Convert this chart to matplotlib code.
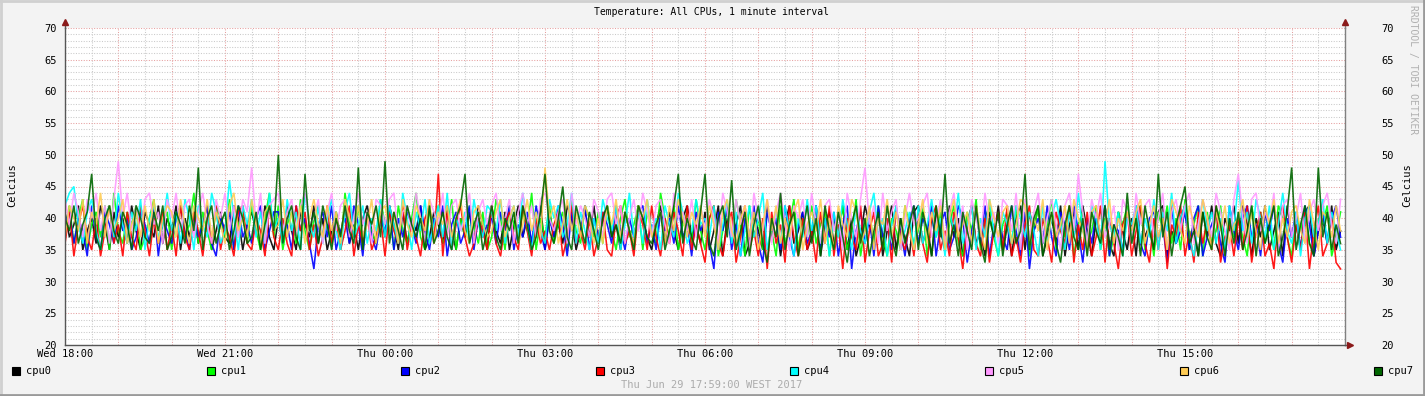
import numpy as np
import matplotlib
matplotlib.use("Agg")
import matplotlib.pyplot as plt
from matplotlib.lines import Line2D
from matplotlib.patches import Rectangle

plt.rcParams['font.family'] = ['DejaVu Sans Mono']

# temperatures, one value every 5 minutes (24 per 2 hours)
cpu0 = ("41 37 39 42 35 38 40 36 42 39 35 41 37 40 36 42 38 35 41 39 37 42 36 40 "
        "38 42 35 40 37 41 36 39 42 35 38 41 37 36 42 40 35 39 41 38 36 42 37 35 "
        "40 36 42 38 35 41 39 37 42 36 40 35 38 41 37 42 36 39 35 40 42 38 36 41 "
        "37 42 39 35 41 36 40 38 42 35 37 41 39 36 42 38 35 40 37 41 36 42 39 35 "
        "42 38 36 41 35 39 42 37 40 36 38 42 35 41 37 39 36 42 40 35 38 41 37 42 "
        "36 40 42 37 39 35 41 38 36 42 40 37 35 39 42 36 41 38 35 40 42 37 39 36 "
        "41 35 38 42 34 40 37 39 42 34 36 41 38 35 42 37 40 34 39 42 36 38 41 35 "
        "37 42 34 39 41 36 38 42 35 40 34 37 42 39 36 41 34 38 42 35 40 37 34 41 "
        "42 36 39 34 41 38 35 42 37 40 34 39 42 36 38 34 41 37 42 35 39 34 40 42 "
        "35 41 38 42 34 37 40 36 42 34 39 41 35 42 38 34 40 37 42 36 34 41 38 35 "
        "40 34 42 37 39 35 41 42 34 38 36 40 42 35 39 34 41 37 42 36 34 40 38 42 "
        "36 42 39 34 40 37 42 35 38 41 34 42 37 39 35 41 42 34 38 40 36 42 35 38")
cpu1 = ("38 42 36 40 43 35 39 41 37 42 35 44 38 36 41 39 42 35 37 40 43 36 39 41 "
        "35 40 42 37 39 44 36 41 38 35 42 40 37 43 35 39 41 36 42 38 35 40 44 37 "
        "42 35 39 41 36 43 38 35 40 42 37 39 36 41 35 44 39 37 42 35 40 38 36 43 "
        "39 41 35 42 38 36 40 44 37 35 41 39 42 36 38 43 35 40 37 42 39 36 41 35 "
        "37 43 40 35 42 39 36 41 38 44 35 40 37 42 36 39 41 35 43 38 36 42 40 37 "
        "41 36 42 38 35 40 43 37 39 42 35 41 38 36 44 40 37 42 35 39 41 36 43 38 "
        "35 40 42 34 38 41 36 43 39 34 42 37 40 35 41 38 34 42 36 39 43 35 40 37 "
        "42 36 39 41 34 40 37 42 35 38 43 34 39 41 36 42 37 34 40 38 35 42 39 36 "
        "38 42 34 40 37 41 35 39 42 36 34 41 38 43 35 40 42 37 34 39 41 36 42 35 "
        "41 34 38 42 36 39 43 35 40 37 42 34 39 41 36 38 42 35 40 34 37 41 39 42 "
        "36 40 42 35 39 34 41 38 42 36 40 35 43 37 39 42 34 41 36 38 42 35 40 37 "
        "40 37 34 42 38 41 36 39 35 42 40 37 34 41 38 42 36 35 40 39 42 34 37 41")
cpu2 = ("39 41 36 40 38 34 42 37 35 41 39 36 42 38 40 35 37 41 39 36 42 34 40 38 "
        "36 40 42 38 35 41 37 39 42 36 34 40 38 41 35 42 37 39 36 40 42 35 38 41 "
        "41 37 39 35 42 38 40 36 32 39 41 37 42 35 38 40 36 42 39 34 41 37 35 40 "
        "38 42 35 40 37 41 39 36 42 38 35 40 37 42 34 39 41 36 38 42 35 40 37 39 "
        "40 36 41 38 42 35 39 37 41 36 42 38 35 40 37 42 39 34 41 36 38 42 35 40 "
        "37 41 39 36 42 38 35 40 37 41 42 36 39 35 41 38 40 36 42 37 39 34 41 38 "
        "40 36 32 41 38 42 35 39 34 40 37 42 36 33 41 38 40 35 42 37 34 39 41 36 "
        "38 42 35 40 37 41 34 39 42 32 38 41 36 40 34 42 37 39 35 41 38 34 40 42 "
        "36 40 38 42 34 39 41 35 37 42 40 33 38 41 36 42 34 39 40 37 35 42 38 34 "
        "41 32 38 40 36 42 37 34 41 39 35 42 38 33 40 36 41 37 42 34 39 38 35 41 "
        "38 42 36 34 40 41 37 39 33 42 36 38 41 35 40 42 34 37 39 41 36 33 42 38 "
        "35 40 42 37 39 34 41 38 42 36 33 40 37 41 35 42 39 34 38 41 36 40 42 37")
cpu3 = ("36 41 34 39 42 37 35 40 34 38 42 36 39 34 41 37 35 42 38 34 40 36 41 35 "
        "39 34 42 37 35 41 38 34 40 36 42 35 39 37 34 41 42 36 35 40 38 34 42 37 "
        "35 40 36 34 42 38 41 35 39 34 37 42 36 40 35 38 42 34 39 36 41 35 37 40 "
        "34 41 38 36 42 35 39 37 34 40 42 36 47 34 41 35 39 42 37 34 36 40 38 35 "
        "42 36 34 39 41 37 35 42 38 34 40 36 38 35 39 41 34 37 42 36 38 35 40 34 "
        "37 41 35 34 40 42 36 38 34 41 39 35 42 37 34 40 36 41 38 34 42 35 39 36 "
        "33 40 42 36 34 39 41 33 37 42 35 38 34 40 32 41 36 39 33 42 37 34 40 35 "
        "38 33 41 36 42 34 39 32 40 37 35 42 33 38 41 34 36 40 33 42 37 35 39 34 "
        "41 36 33 40 42 35 38 34 41 37 32 39 42 36 34 40 33 38 41 35 42 34 37 33 "
        "39 42 35 34 40 37 33 41 38 36 42 33 39 35 41 34 37 42 33 40 36 32 39 41 "
        "34 38 42 36 33 40 35 41 32 39 37 42 34 38 33 41 36 40 35 42 33 37 39 34 "
        "40 35 42 33 38 41 34 36 32 40 42 37 33 39 35 41 32 38 42 34 36 40 33 32")
cpu4 = ("42 44 45 39 36 41 43 38 35 40 42 37 44 39 36 41 38 43 35 40 42 37 39 44 "
        "38 41 36 43 40 35 42 39 37 44 41 36 38 46 40 35 42 39 43 37 41 36 44 38 "
        "40 36 43 38 41 35 44 39 37 42 36 40 43 38 35 41 44 37 39 42 36 40 38 43 "
        "37 42 39 36 44 40 35 41 38 43 36 39 42 37 44 35 40 38 41 36 43 39 37 42 "
        "41 38 43 36 40 42 37 44 39 35 41 38 36 43 40 42 37 39 44 36 41 38 35 40 "
        "36 43 40 38 42 35 39 44 37 41 36 43 38 40 35 42 39 37 44 41 36 38 43 39 "
        "40 37 42 35 39 43 36 41 34 38 42 37 40 44 35 39 41 36 42 38 34 40 37 43 "
        "38 42 36 40 34 41 37 43 39 35 42 38 36 41 44 37 40 34 39 42 36 38 41 35 "
        "42 36 39 43 37 40 34 41 38 44 36 39 42 35 40 37 43 38 34 41 39 36 42 40 "
        "37 41 38 34 42 36 40 43 39 35 41 37 44 38 36 42 40 35 49 39 37 41 34 40 "
        "39 42 36 40 37 43 35 41 38 44 36 40 42 37 34 39 43 38 41 36 40 35 42 38 "
        "46 38 41 36 43 40 37 42 35 39 44 38 36 41 34 40 42 37 39 43 36 41 38 35")
cpu5 = ("43 39 44 41 37 43 40 44 38 42 36 43 49 40 44 38 42 37 43 44 39 41 36 43 "
        "40 44 38 42 43 37 41 44 39 36 43 40 44 38 42 37 43 41 48 39 44 36 42 43 "
        "44 38 41 43 37 42 44 39 40 43 36 41 44 38 42 43 37 40 44 39 41 36 43 42 "
        "39 43 44 37 41 42 38 44 40 36 43 41 39 44 37 42 43 38 40 44 36 41 43 39 "
        "42 44 38 40 43 36 41 44 39 42 37 43 44 40 38 41 43 36 44 39 42 40 37 43 "
        "41 37 43 44 39 42 36 40 43 38 44 41 37 42 43 39 36 44 40 41 38 43 37 42 "
        "38 43 40 36 44 41 37 43 39 42 35 44 40 38 43 36 41 44 39 35 42 40 43 37 "
        "44 39 36 42 43 38 41 35 44 40 37 43 48 39 42 36 44 38 41 43 35 40 44 39 "
        "40 42 44 37 39 43 36 41 44 38 42 35 43 40 37 44 39 41 36 43 42 38 44 35 "
        "43 37 41 44 36 40 43 39 35 42 44 38 47 41 36 43 40 44 37 39 42 35 43 41 "
        "36 44 39 42 43 37 40 44 35 41 43 38 42 44 36 39 43 40 37 44 41 38 35 43 "
        "47 40 36 43 44 38 41 39 44 35 42 43 37 40 44 36 41 43 38 42 44 39 36 43")
cpu6 = ("37 42 40 38 43 36 41 39 44 37 42 38 40 43 36 39 41 37 42 38 43 36 40 42 "
        "41 37 43 39 36 42 40 38 43 37 41 39 36 42 44 38 40 37 43 39 36 41 42 38 "
        "39 43 37 41 38 42 36 40 43 39 37 42 38 41 36 43 40 38 42 37 39 43 36 41 "
        "42 38 41 36 43 39 37 42 40 38 43 36 41 39 42 37 40 43 38 36 41 42 39 37 "
        "38 41 43 37 40 42 36 39 43 38 41 37 48 40 42 36 39 43 38 41 37 42 40 36 "
        "40 36 42 39 43 37 41 38 36 42 40 43 37 39 41 36 42 38 43 40 37 41 39 42 "
        "37 42 39 35 41 43 38 36 40 42 37 41 35 39 43 38 42 36 40 37 41 43 35 39 "
        "41 38 43 36 40 35 42 39 37 43 41 36 38 42 35 40 39 43 37 41 36 42 38 35 "
        "39 43 36 41 38 42 35 40 43 37 39 41 36 42 38 35 43 40 37 41 42 36 39 43 "
        "42 36 40 38 43 35 41 37 39 42 36 43 40 38 35 41 42 37 39 43 36 40 38 41 "
        "38 41 43 36 39 42 37 40 35 43 41 38 36 42 39 37 43 40 35 41 38 42 36 39 "
        "40 43 37 41 38 35 42 39 43 36 40 37 41 42 38 36 43 39 35 41 40 37 42 38")
cpu7 = ("40 38 42 36 39 41 47 37 35 40 42 38 36 41 39 35 42 40 37 36 41 38 42 35 "
        "37 41 39 36 42 38 48 35 40 42 36 39 41 35 38 42 40 36 37 41 35 39 42 38 "
        "50 36 40 42 37 35 47 38 41 36 42 39 35 40 37 42 38 36 48 35 41 39 42 37 "
        "49 36 41 38 35 42 39 37 40 35 42 36 38 41 37 35 40 42 47 36 39 41 35 38 "
        "42 37 35 40 38 41 36 42 39 35 37 41 47 38 36 40 45 37 35 42 39 36 41 38 "
        "35 40 42 37 39 36 41 38 35 42 40 37 36 39 41 35 38 42 47 36 40 37 35 41 "
        "47 36 34 40 42 37 46 35 38 41 34 39 42 36 33 40 37 44 35 39 41 34 38 42 "
        "36 40 34 42 38 35 41 37 33 39 42 36 40 34 38 41 35 42 37 34 40 36 39 42 "
        "35 41 38 34 42 37 47 36 39 34 41 38 35 42 36 33 40 37 41 34 39 42 36 38 "
        "47 35 40 42 34 38 41 36 33 39 42 37 35 40 34 41 38 36 42 35 39 37 34 44 "
        "36 40 34 42 38 35 47 37 41 34 39 42 45 36 38 34 41 37 35 42 39 34 40 36 "
        "41 35 38 42 34 40 36 39 42 34 37 41 48 35 39 42 36 34 48 37 41 35 39 36")

names = ['cpu0', 'cpu1', 'cpu2', 'cpu3', 'cpu4', 'cpu5', 'cpu6', 'cpu7']
series = [cpu0, cpu1, cpu2, cpu3, cpu4, cpu5, cpu6, cpu7]
colors = ['#000000', '#00FF00', '#0000FF', '#FF0000', '#00FFFF', '#FF99FF', '#FFCC55', '#006600']
xlabels = ['Wed 18:00', 'Wed 21:00', 'Thu 00:00', 'Thu 03:00', 'Thu 06:00', 'Thu 09:00', 'Thu 12:00', 'Thu 15:00']

W, H = 1425, 396
fig = plt.figure(figsize=(W / 100, H / 100), dpi=100, facecolor='#F3F3F3')
ax = fig.add_axes([65 / W, 51 / H, 1280 / W, 317 / H])
ax.set_facecolor('white')

for name, s, c in zip(names, series, colors):
    v = np.array(s.split(), dtype=float)
    t = np.arange(len(v)) * 1440.0 / len(v)
    ax.plot(t, v, color=c, lw=1.15, alpha=0.9, solid_joinstyle='miter')

ax.set_xlim(0, 1440)
ax.set_ylim(20, 70)
ax.set_xticks(np.arange(0, 1441, 60))
ax.set_xticks(np.arange(30, 1440, 60), minor=True)
ax.set_xticklabels([xlabels[i // 3] if i % 3 == 0 and i // 3 < len(xlabels) else '' for i in range(25)])
ax.set_yticks(np.arange(20, 71, 5))
ax.set_yticks(np.arange(20, 71, 1), minor=True)
ax.grid(which='major', color='#E6A0A0', ls=(0, (1, 1.5)), lw=0.75)
ax.grid(which='minor', color='#CACACA', ls=(0, (1, 1.5)), lw=0.75)
ax.set_axisbelow(True)
ax.tick_params(which='both', length=0)
ax.tick_params(axis='x', pad=3, labelsize=7.5)
ax.tick_params(axis='y', pad=6, labelsize=7.5)
ax.spines['top'].set_visible(False)
for sp in ['left', 'bottom', 'right']:
    ax.spines[sp].set_color('#555555')
    ax.spines[sp].set_linewidth(1.0)
ax.spines['right'].set_color('#808080')

ax2 = ax.twinx()
ax2.set_ylim(20, 70)
ax2.set_yticks(np.arange(20, 71, 5))
ax2.tick_params(length=0, pad=26, labelsize=7.5)
for sp in ax2.spines.values():
    sp.set_visible(False)

# axis arrows
tr = ax.transAxes
ax.plot([0, 0], [1, 1.02], color='#555555', lw=1.0, transform=tr, clip_on=False)
ax.plot([1, 1], [1, 1.02], color='#808080', lw=1.0, transform=tr, clip_on=False)
ax.plot([0], [1.02], marker='^', ms=4, color='#8B1A1A', transform=tr, clip_on=False)
ax.plot([1], [1.02], marker='^', ms=4, color='#8B1A1A', transform=tr, clip_on=False)
ax.plot([1, 1.004], [0, 0], color='#555555', lw=1.0, transform=tr, clip_on=False)
ax.plot([1.004], [0], marker='>', ms=4, color='#8B1A1A', transform=tr, clip_on=False)

# texts
fig.text(712 / W, 1 - 12 / H, 'Temperature: All CPUs, 1 minute interval', ha='center', va='center', fontsize=7)
fig.text(12 / W, 1 - 185 / H, 'Celcius', rotation=90, ha='center', va='center', fontsize=7.5)
fig.text(1407 / W, 1 - 185 / H, 'Celcius', rotation=90, ha='center', va='center', fontsize=7.5)
fig.text(1413 / W, 1 - 5 / H, 'RRDTOOL / TOBI OETIKER', rotation=270, ha='center', va='top',
         fontsize=7, color='#B0B0B0')
fig.text(712 / W, 1 - 385 / H, 'Thu Jun 29 17:59:00 WEST 2017', ha='center', va='center',
         fontsize=7.5, color='#ABABAB')

# legend
for k, (name, c) in enumerate(zip(names, colors)):
    x0 = 12 + k * 194.6
    fig.patches.append(Rectangle((x0 / W, 1 - 375 / H), 8 / W, 8 / H, transform=fig.transFigure,
                                 facecolor=c, edgecolor='black', lw=0.8))
    fig.text((x0 + 14) / W, 1 - 371 / H, name, ha='left', va='center', fontsize=7.5)

# frame
fig.add_artist(Line2D([0, 1], [1 - 1 / H, 1 - 1 / H], color='#D0D0D0', lw=2))
fig.add_artist(Line2D([1 / W, 1 / W], [0, 1], color='#D0D0D0', lw=2))
fig.add_artist(Line2D([0, 1], [1 / H, 1 / H], color='#9A9A9A', lw=2))
fig.add_artist(Line2D([1 - 1 / W, 1 - 1 / W], [0, 1], color='#9A9A9A', lw=2))

fig.savefig('out.png', dpi=100, facecolor=fig.get_facecolor())
